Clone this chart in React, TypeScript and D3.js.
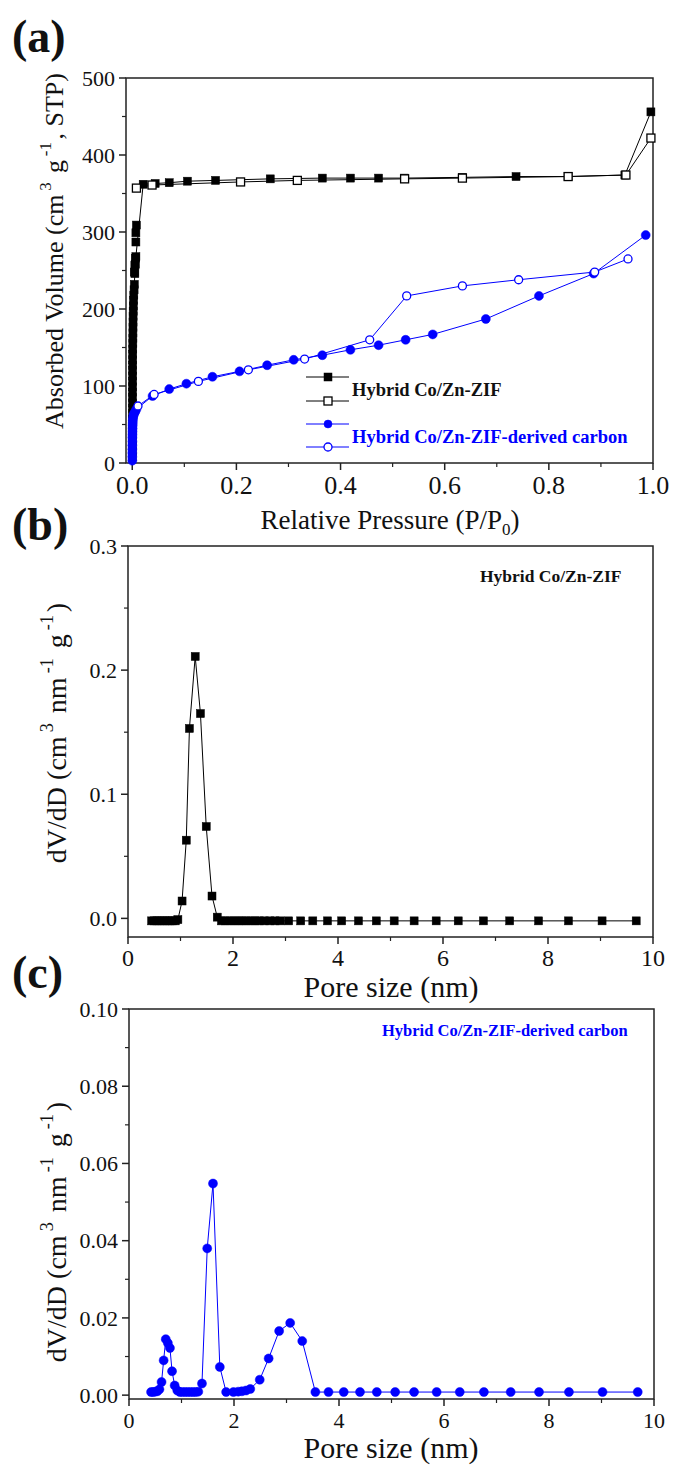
import { useEffect } from "react";
import * as d3 from "d3";

// (a) isotherms, pressure P/P0 vs volume (cm3/g)
const zifAdsP = [0.0001, 0.0001, 0.0001, 0.0002, 0.0002, 0.0002, 0.0003, 0.0003, 0.0003, 0.0004, 0.0004, 0.0005, 0.0005, 0.0006, 0.0006, 0.0007, 0.0007, 0.0008, 0.0008, 0.0009, 0.001, 0.0011, 0.0012, 0.0013, 0.0014, 0.0015, 0.0016, 0.0018, 0.002, 0.0025, 0.003, 0.0035, 0.004, 0.005, 0.006, 0.007, 0.021, 0.044, 0.071, 0.106, 0.16, 0.265, 0.365, 0.419, 0.473, 0.523, 0.634, 0.737, 0.837, 0.946, 0.996];
const zifAdsV = [8, 15, 22, 29, 36, 43, 50, 57, 64, 71, 78, 85, 92, 99, 106, 113, 120, 127, 134, 141, 148, 155, 162, 169, 176, 183, 190, 197, 204, 211, 218, 225, 232, 246, 258, 268, 362, 363, 364, 366, 367, 369, 370, 370, 370, 370, 371, 372, 372, 374, 456];
const zifLowP = [0.004, 0.005, 0.006, 0.007, 0.007, 0.008];
const zifLowV = [248, 257, 266, 287, 299, 309];
const zifDesP = [0.996, 0.948, 0.837, 0.634, 0.523, 0.317, 0.208, 0.038, 0.008];
const zifDesV = [422, 374, 372, 370, 369, 367, 365, 361, 357];
const carbAdsP = [0.0001, 0.0001, 0.0001, 0.0002, 0.0002, 0.0003, 0.0003, 0.0004, 0.0005, 0.0006, 0.0007, 0.0009, 0.001, 0.0015, 0.002, 0.003, 0.004, 0.006, 0.008, 0.039, 0.071, 0.104, 0.154, 0.206, 0.259, 0.31, 0.365, 0.419, 0.473, 0.525, 0.577, 0.679, 0.781, 0.886, 0.986];
const carbAdsV = [3, 8, 13, 18, 23, 28, 33, 37, 41, 45, 49, 52, 55, 58, 61, 63, 65, 67, 70, 87, 96, 103, 112, 119, 127, 134, 140, 147, 153, 160, 167, 187, 217, 246, 296];
const carbDesP = [0.952, 0.888, 0.742, 0.634, 0.527, 0.456, 0.331, 0.223, 0.127, 0.042, 0.011];
const carbDesV = [265, 248, 238, 230, 217, 160, 135, 121, 106, 89, 74];

// (b) pore size distribution of Co/Zn-ZIF
const zifPore = [0.45, 0.5, 0.55, 0.6, 0.65, 0.7, 0.75, 0.8, 0.85, 0.9, 0.95, 1.03, 1.11, 1.17, 1.28, 1.38, 1.49, 1.6, 1.7, 1.78, 1.86, 1.94, 2.02, 2.1, 2.18, 2.26, 2.34, 2.42, 2.5, 2.6, 2.7, 2.8, 2.9, 3.06, 3.29, 3.52, 3.8, 4.07, 4.39, 4.73, 5.07, 5.45, 5.87, 6.29, 6.77, 7.27, 7.82, 8.39, 9.03, 9.68];
const zifDV = [-0.002, -0.002, -0.002, -0.002, -0.002, -0.002, -0.002, -0.002, -0.002, -0.002, -0.001, 0.014, 0.063, 0.153, 0.211, 0.165, 0.074, 0.018, 0.001, -0.002, -0.002, -0.002, -0.002, -0.002, -0.002, -0.002, -0.002, -0.002, -0.002, -0.002, -0.002, -0.002, -0.002, -0.002, -0.002, -0.002, -0.002, -0.002, -0.002, -0.002, -0.002, -0.002, -0.002, -0.002, -0.002, -0.002, -0.002, -0.002, -0.002, -0.002];

// (c) pore size distribution of the derived carbon
const carbPore = [0.42, 0.46, 0.5, 0.54, 0.58, 0.62, 0.66, 0.7, 0.74, 0.78, 0.82, 0.87, 0.92, 0.97, 1.02, 1.07, 1.12, 1.17, 1.22, 1.27, 1.32, 1.39, 1.49, 1.6, 1.73, 1.85, 1.99, 2.08, 2.15, 2.23, 2.31, 2.49, 2.66, 2.86, 3.07, 3.3, 3.55, 3.8, 4.09, 4.4, 4.72, 5.07, 5.43, 5.86, 6.3, 6.76, 7.27, 7.81, 8.38, 9.02, 9.69];
const carbDV = [0.0008, 0.0008, 0.0009, 0.001, 0.0015, 0.0034, 0.009, 0.0145, 0.0135, 0.0122, 0.0062, 0.0025, 0.0012, 0.0008, 0.0008, 0.0008, 0.0008, 0.0008, 0.0008, 0.0008, 0.0009, 0.003, 0.038, 0.0548, 0.0073, 0.0008, 0.0008, 0.0009, 0.001, 0.0012, 0.0016, 0.004, 0.0095, 0.0166, 0.0187, 0.014, 0.0008, 0.0008, 0.0008, 0.0008, 0.0008, 0.0008, 0.0008, 0.0008, 0.0008, 0.0008, 0.0008, 0.0008, 0.0008, 0.0008, 0.0008];

const aXTicks = [0, 0.2, 0.4, 0.6, 0.8, 1.0];
const aYTicks = [0, 100, 200, 300, 400, 500];
const bYTicks = [0, 0.1, 0.2, 0.3];
const cYTicks = [0, 0.02, 0.04, 0.06, 0.08, 0.1];
const poreTicks = [0, 2, 4, 6, 8, 10];

const FONT = "Liberation Serif, DejaVu Serif, serif";
const BLUE = "#0000ff";

const zip = (xs: number[], ys: number[]) => xs.map((x, i) => [x, ys[i]] as [number, number]);

type Scale = d3.ScaleLinear<number, number>;

function Frame({ x, y, xTicks, yTicks, xMinor, yMinor, xFmt, yFmt, xFont, yFont, xLabelDy }: {
  x: Scale; y: Scale; xTicks: number[]; yTicks: number[]; xMinor: number[]; yMinor: number[];
  xFmt: (v: number) => string; yFmt: (v: number) => string; xFont: number; yFont: number; xLabelDy: number;
}) {
  const [x0, x1] = x.range();
  const [y0, y1] = y.range();
  return (
    <g fontFamily={FONT} fill="#111">
      <rect x={x0} y={y1} width={x1 - x0} height={y0 - y1} fill="none" stroke="#222" strokeWidth={1.5} />
      {xTicks.map(t => (
        <g key={"xt" + t}>
          <line x1={x(t)} x2={x(t)} y1={y0} y2={y0 + 7} stroke="#222" strokeWidth={1.5} />
          <text x={x(t)} y={y0 + xLabelDy} textAnchor="middle" fontSize={xFont}>{xFmt(t)}</text>
        </g>
      ))}
      {xMinor.map(t => <line key={"xm" + t} x1={x(t)} x2={x(t)} y1={y0} y2={y0 + 4} stroke="#222" strokeWidth={1.2} />)}
      {yTicks.map(t => (
        <g key={"yt" + t}>
          <line x1={x0 - 7} x2={x0} y1={y(t)} y2={y(t)} stroke="#222" strokeWidth={1.5} />
          <text x={x0 - 11} y={y(t)} dy="0.35em" textAnchor="end" fontSize={yFont}>{yFmt(t)}</text>
        </g>
      ))}
      {yMinor.map(t => <line key={"ym" + t} x1={x0 - 4} x2={x0} y1={y(t)} y2={y(t)} stroke="#222" strokeWidth={1.2} />)}
    </g>
  );
}

function Series({ pts, x, y, color, shape, filled, size, noLine }: {
  pts: [number, number][]; x: Scale; y: Scale; color: string; shape: "square" | "circle"; filled: boolean; size: number; noLine?: boolean;
}) {
  const line = d3.line<[number, number]>().x(d => x(d[0])).y(d => y(d[1]));
  return (
    <g>
      {!noLine && <path d={line(pts) || ""} fill="none" stroke={color} strokeWidth={1} />}
      {pts.map((d, i) => shape === "square" ? (
        <rect key={i} x={x(d[0]) - size / 2} y={y(d[1]) - size / 2} width={size} height={size}
          fill={filled ? color : "#fff"} stroke={color} strokeWidth={filled ? 0.5 : 1.3} />
      ) : (
        <circle key={i} cx={x(d[0])} cy={y(d[1])} r={size / 2}
          fill={filled ? color : "#fff"} stroke={color} strokeWidth={filled ? 0.5 : 1.3} />
      ))}
    </g>
  );
}

function YLabel({ cx, cy, size, main, parts }: { cx: number; cy: number; size: number; main: string; parts: [string, string][] }) {
  return (
    <text transform={`translate(${cx},${cy}) rotate(-90)`} textAnchor="middle" fontFamily={FONT} fontSize={size} fill="#111">
      {main}
      {parts.map(([sup, after], i) => (
        <tspan key={i}>
          <tspan dx={size * 0.15} dy={-size * 0.45} fontSize={size * 0.65}>{sup}</tspan>
          <tspan dx={size * 0.1} dy={size * 0.45}>{after}</tspan>
        </tspan>
      ))}
    </text>
  );
}

export default function App() {
  useEffect(() => {
    document.body.style.margin = "0";
  }, []);

  // panel a
  const ax = d3.scaleLinear().domain([-0.012, 1.0]).range([126, 653]);
  const ay = d3.scaleLinear().domain([0, 500]).range([463, 78]);
  // panel b
  const bx = d3.scaleLinear().domain([0, 10]).range([128, 653]);
  const by = d3.scaleLinear().domain([-0.015, 0.3]).range([937, 546]);
  // panel c
  const cx = d3.scaleLinear().domain([0, 10]).range([129, 654]);
  const cy = d3.scaleLinear().domain([-0.001, 0.1]).range([1399, 1009]);

  const legendA = [
    { color: "#000", shape: "square" as const, filled: true },
    { color: "#000", shape: "square" as const, filled: false },
    { color: BLUE, shape: "circle" as const, filled: true },
    { color: BLUE, shape: "circle" as const, filled: false },
  ];

  return (
    <svg width={673} height={1467} viewBox="0 0 673 1467" style={{ display: "block", background: "#fff" }}>
      {/* (a) */}
      <text x={12} y={52} fontFamily={FONT} fontSize={46} fontWeight="bold" fill="#111">(a)</text>
      <Frame x={ax} y={ay} xTicks={aXTicks} yTicks={aYTicks}
        xMinor={[0.1, 0.3, 0.5, 0.7, 0.9]} yMinor={[50, 150, 250, 350, 450]}
        xFmt={d3.format(".1f")} yFmt={d3.format("d")} xFont={26} yFont={22} xLabelDy={31} />
      <Series pts={zip(zifAdsP, zifAdsV)} x={ax} y={ay} color="#000" shape="square" filled size={8} />
      <Series pts={zip(zifLowP, zifLowV)} x={ax} y={ay} color="#000" shape="square" filled size={8} noLine />
      <Series pts={zip(zifDesP, zifDesV)} x={ax} y={ay} color="#000" shape="square" filled={false} size={8} />
      <Series pts={zip(carbAdsP, carbAdsV)} x={ax} y={ay} color={BLUE} shape="circle" filled size={9} />
      <Series pts={zip(carbDesP, carbDesV)} x={ax} y={ay} color={BLUE} shape="circle" filled={false} size={8} />
      {legendA.map((l, i) => {
        const ly = [377, 401, 424, 447][i];
        return (
          <g key={i}>
            <line x1={306} x2={349} y1={ly} y2={ly} stroke={l.color} strokeWidth={1} />
            {l.shape === "square"
              ? <rect x={324} y={ly - 4} width={8} height={8} fill={l.filled ? l.color : "#fff"} stroke={l.color} strokeWidth={l.filled ? 0.5 : 1.3} />
              : <circle cx={328} cy={ly} r={4} fill={l.filled ? l.color : "#fff"} stroke={l.color} strokeWidth={l.filled ? 0.5 : 1.3} />}
          </g>
        );
      })}
      <text x={352} y={396} fontFamily={FONT} fontSize={18.5} fontWeight="bold" fill="#111">Hybrid Co/Zn-ZIF</text>
      <text x={352} y={443} fontFamily={FONT} fontSize={18.5} fontWeight="bold" fill={BLUE}>Hybrid Co/Zn-ZIF-derived carbon</text>
      <text x={390} y={529} textAnchor="middle" fontFamily={FONT} fontSize={27} fill="#111">
        Relative Pressure (P/P<tspan dy={6} fontSize={17}>0</tspan><tspan dy={-6}>)</tspan>
      </text>
      <YLabel cx={63} cy={251} size={26} main="Absorbed Volume (cm" parts={[["3", " g"], ["-1", ", STP)"]]} />

      {/* (b) */}
      <text x={12} y={540} fontFamily={FONT} fontSize={46} fontWeight="bold" fill="#111">(b)</text>
      <Frame x={bx} y={by} xTicks={poreTicks} yTicks={bYTicks}
        xMinor={[1, 3, 5, 7, 9]} yMinor={[0.05, 0.15, 0.25]}
        xFmt={d3.format("d")} yFmt={d3.format(".1f")} xFont={24} yFont={22} xLabelDy={29} />
      <Series pts={zip(zifPore, zifDV)} x={bx} y={by} color="#000" shape="square" filled size={8} />
      <text x={480} y={582} fontFamily={FONT} fontSize={17.5} fontWeight="bold" fill="#111">Hybrid Co/Zn-ZIF</text>
      <text x={391} y={997} textAnchor="middle" fontFamily={FONT} fontSize={30} fill="#111">Pore size (nm)</text>
      <YLabel cx={66} cy={733} size={28} main="dV/dD (cm" parts={[["3", " nm"], ["-1", " g"], ["-1", ")"]]} />

      {/* (c) */}
      <text x={12} y={988} fontFamily={FONT} fontSize={46} fontWeight="bold" fill="#111">(c)</text>
      <Frame x={cx} y={cy} xTicks={poreTicks} yTicks={cYTicks}
        xMinor={[1, 3, 5, 7, 9]} yMinor={[0.01, 0.03, 0.05, 0.07, 0.09]}
        xFmt={d3.format("d")} yFmt={d3.format(".2f")} xFont={22} yFont={22} xLabelDy={29} />
      <Series pts={zip(carbPore, carbDV)} x={cx} y={cy} color={BLUE} shape="circle" filled size={9} />
      <text x={382} y={1036} fontFamily={FONT} fontSize={16.5} fontWeight="bold" fill={BLUE}>Hybrid Co/Zn-ZIF-derived carbon</text>
      <text x={391} y={1458} textAnchor="middle" fontFamily={FONT} fontSize={30} fill="#111">Pore size (nm)</text>
      <YLabel cx={66} cy={1232} size={28} main="dV/dD (cm" parts={[["3", " nm"], ["-1", " g"], ["-1", ")"]]} />
    </svg>
  );
}
